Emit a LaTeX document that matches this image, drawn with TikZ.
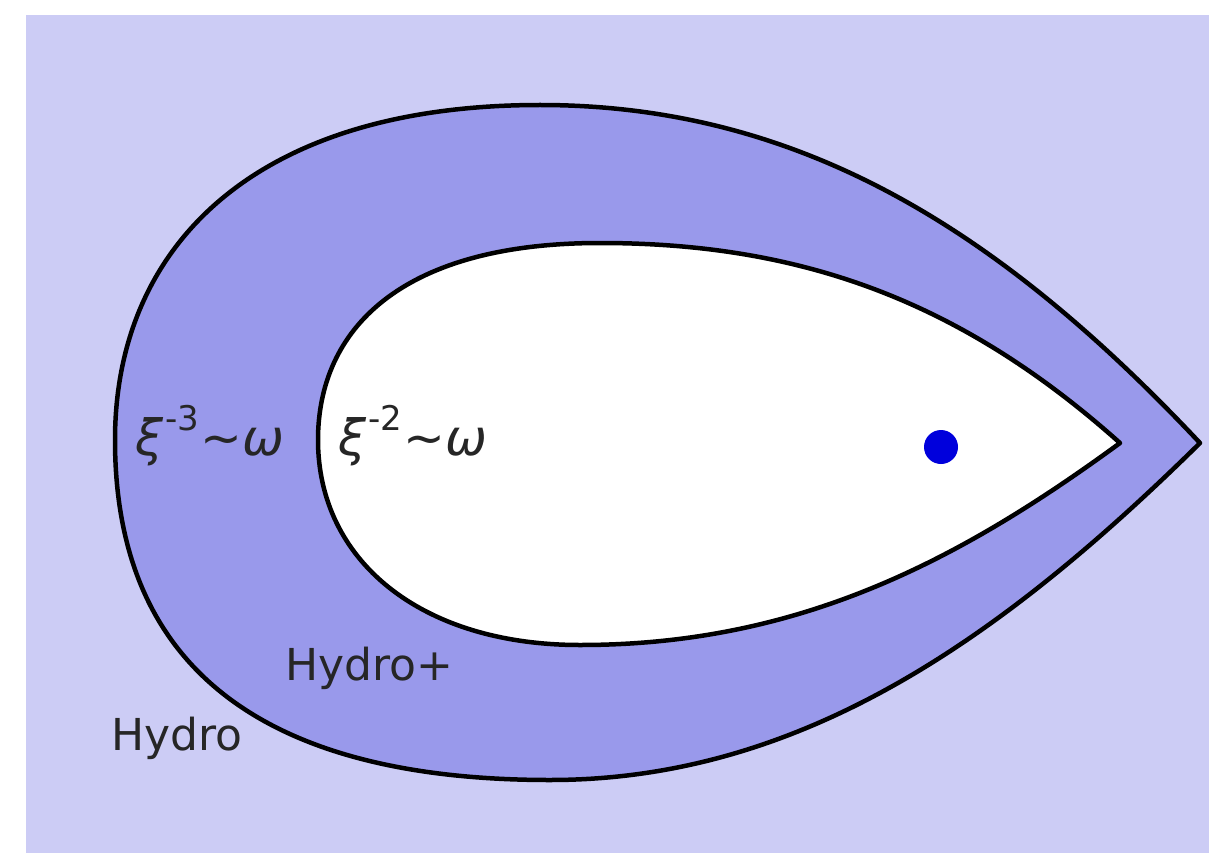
\documentclass[tikz,border=0pt]{standalone}
\usepackage{fontspec}
\setmainfont{DejaVu Sans}
\definecolor{bgpurple}{RGB}{204,204,245}
\definecolor{midpurple}{RGB}{153,153,235}
\definecolor{dotblue}{RGB}{0,0,220}
\newcommand{\supr}[1]{\hspace{2pt}\raisebox{0.5em}{\fontsize{34}{38}\selectfont #1}\hspace{1pt}}
\begin{document}
\begin{tikzpicture}[x=1pt,y=-1pt,
  outline/.style={draw=black,line width=4.5pt,line join=round},
  lbl/.style={inner sep=0pt,font=\fontsize{44}{52}\selectfont,text=black!85},
  xlbl/.style={inner sep=0pt,font=\fontsize{50}{58}\selectfont,text=black!85}]
\useasboundingbox (0,0) rectangle (1209,853);
\fill[bgpurple] (26,15) rectangle (1209,853);
% outer region
\path[outline,fill=midpurple] (1200,443) .. controls (1000,230) and (800,105) .. (540,105)
  .. controls (250,105) and (115,250) .. (115,440)
  .. controls (115,680) and (280,780) .. (550,780)
  .. controls (800,780) and (1000,640) .. (1200,443) -- cycle;
% inner region
\path[outline,fill=white] (1120,443) .. controls (960,300) and (800,243) .. (600,243)
  .. controls (400,243) and (318,330) .. (318,440)
  .. controls (318,560) and (420,645) .. (580,645)
  .. controls (800,645) and (960,560) .. (1120,443) -- cycle;
\fill[dotblue] (941,447) circle (17);
\node[xlbl] (l3) at (210,436) {\itshape ξ\upshape\supr{-3}∼\itshape ω};
\node[xlbl] (l2) at (413,436) {\itshape ξ\upshape\supr{-2}∼\itshape ω};
\node[lbl] (hp) at (369,668) {Hydro+};
\node[lbl] (h) at (177,738) {Hydro};
\end{tikzpicture}
\end{document}
